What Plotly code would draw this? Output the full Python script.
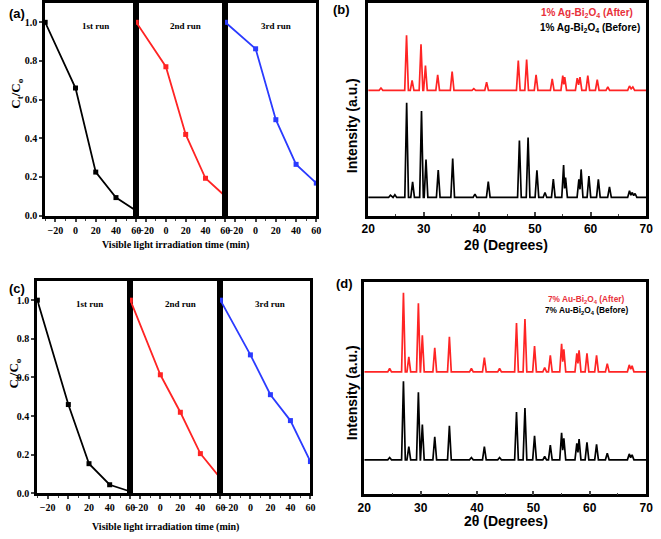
import plotly.graph_objects as go

W, H = 661, 539

# ---------------- data ----------------
time_min = [-30, 0, 20, 40, 60]
a_run1 = [1.0, 0.66, 0.225, 0.093, 0.025]
a_run2 = [1.0, 0.77, 0.42, 0.193, 0.10]
a_run3 = [1.0, 0.863, 0.496, 0.265, 0.168]
c_run1 = [1.0, 0.46, 0.154, 0.045, 0.01]
c_run2 = [1.0, 0.614, 0.42, 0.206, 0.079]
c_run3 = [1.0, 0.717, 0.511, 0.377, 0.165]
y_ticks = [0.0, 0.2, 0.4, 0.6, 0.8, 1.0]
t_ticks = [-20, 0, 20, 40, 60]
run_labels = ["1st run", "2nd run", "3rd run"]

two_theta_ticks = [20, 30, 40, 50, 60, 70]

# XRD peak lists (2theta, intensity a.u.)
b_before_base = 55
b_before_pos = [24.0, 24.8, 26.92, 27.99, 29.59, 30.4, 32.6, 35.2, 39.2, 41.6, 47.2, 48.76, 50.35, 51.8,
                53.3, 55.15, 55.5, 57.9, 58.3, 59.7, 61.4, 63.4, 67.0, 67.5, 68.0]
b_before_int = [62, 63, 342, 102, 317, 170, 138, 173, 65, 103, 228, 237, 137, 70,
                111, 153, 115, 110, 140, 120, 110, 87, 75, 70, 67]
b_after_base = 380
b_after_pos = [22.3, 26.9, 27.9, 29.5, 30.3, 32.5, 35.1, 39.0, 41.3, 47.0, 48.5, 50.2, 53.1,
               55.0, 55.35, 57.6, 58.1, 59.5, 61.2, 63.1, 67.0, 67.6]
b_after_int = [387, 547, 410, 520, 455, 427, 437, 385, 405, 470, 473, 427, 415,
               425, 420, 417, 420, 425, 412, 390, 393, 390]

d_before_base = 105
d_before_pos = [24.5, 26.95, 27.9, 29.6, 30.3, 32.5, 35.1, 39.0, 41.3, 44.0, 47.0, 48.5, 50.2, 52.0,
                53.0, 55.0, 55.4, 57.7, 58.1, 59.5, 61.2, 63.1, 67.0, 67.5]
d_before_int = [112, 343, 145, 310, 212, 175, 208, 112, 145, 112, 250, 262, 178, 115,
                150, 187, 170, 155, 168, 158, 152, 125, 123, 120]
d_after_base = 372
d_after_pos = [24.5, 26.95, 27.9, 29.6, 30.3, 32.5, 35.1, 39.0, 41.3, 44.0, 47.0, 48.5, 50.2, 52.0,
               53.0, 55.0, 55.4, 57.7, 58.1, 59.5, 61.2, 63.1, 67.0, 67.5]
d_after_int = [382, 612, 417, 580, 483, 445, 478, 382, 415, 382, 520, 532, 450, 385,
               422, 457, 440, 428, 437, 428, 422, 397, 393, 390]


def pattern(base, pos, inten, w=0.33):
    xs, ys = [20.0], [base]
    n = len(pos)
    for i in range(n):
        p, h = pos[i], inten[i]
        left = p - w
        if i > 0 and left < pos[i - 1] + w:
            mid = (pos[i - 1] + p) / 2
            xs.append(mid)
            ys.append(base + 0.45 * min(h - base, inten[i - 1] - base))
        else:
            xs.append(left)
            ys.append(base)
        xs.append(p)
        ys.append(h)
        if i == n - 1 or p + w <= pos[i + 1] - w:
            xs.append(p + w)
            ys.append(base)
    xs.append(70.0)
    ys.append(base)
    return xs, ys


def fx(px):
    return px / W


def fy(py):
    return 1 - py / H


RED = "#ff2424"
BLUE = "#2b3bff"
SERIF = "Liberation Serif"
SANS = "Liberation Sans"

fig = go.Figure()
layout = {}

# ---------- kinetic panels (a) and (c) ----------
kin_panels = [
    ([39, 132, 223, 316], 3, 218, [a_run1, a_run2, a_run3], 1),
    ([31, 126, 218, 310], 284, 499, [c_run1, c_run2, c_run3], 5),
]
colors = ["black", RED, BLUE]
for edges, ytop, ybot, runs, k0 in kin_panels:
    for j in range(3):
        k = k0 + j
        xa = "xaxis" if k == 1 else f"xaxis{k}"
        ya = "yaxis" if k == 1 else f"yaxis{k}"
        xr = "x" if k == 1 else f"x{k}"
        yr = "y" if k == 1 else f"y{k}"
        layout[xa] = dict(domain=[fx(edges[j]), fx(edges[j + 1])], anchor=yr,
                          range=[-30, 60], tickvals=t_ticks, ticks="outside", ticklen=3,
                          tickwidth=1.5, showline=True, mirror=True, linewidth=3,
                          linecolor="black", showgrid=False, zeroline=False,
                          minor=dict(ticks="outside", ticklen=2, tickwidth=1.2, tickvals=[-30, -10, 10, 30, 50]),
                          tickfont=dict(family=SERIF, size=10, color="black", weight="bold"))
        layout[ya] = dict(domain=[fy(ybot), fy(ytop)], anchor=xr, range=[0, 1.1],
                          tickvals=y_ticks, tickformat=".1f",
                          ticks="outside" if j == 0 else "", ticklen=3, tickwidth=1.5,
                          showticklabels=(j == 0), showline=True, mirror=True, linewidth=3,
                          linecolor="black", showgrid=False, zeroline=False,
                          tickfont=dict(family=SERIF, size=10, color="black", weight="bold"))
        fig.add_trace(go.Scatter(x=time_min, y=runs[j], xaxis=xr, yaxis=yr,
                                 mode="lines+markers", cliponaxis=False,
                                 line=dict(color=colors[j], width=1.8),
                                 marker=dict(symbol="square", size=5, color=colors[j]),
                                 showlegend=False))
        fig.add_annotation(x=20, y=0.98, xref=xr, yref=yr, text=run_labels[j],
                           showarrow=False,
                           font=dict(family=SERIF, size=9, color="black", weight="bold"))

# ---------- XRD panels (b) and (d) ----------
xrd_panels = [
    (4, [369, 653], 3, 218,
     [(b_after_base, b_after_pos, b_after_int, RED), (b_before_base, b_before_pos, b_before_int, "black")]),
    (8, [365, 653], 285, 500,
     [(d_after_base, d_after_pos, d_after_int, RED), (d_before_base, d_before_pos, d_before_int, "black")]),
]
for k, xe, ytop, ybot, series in xrd_panels:
    layout[f"xaxis{k}"] = dict(domain=[fx(xe[0]), fx(xe[1])], anchor=f"y{k}", range=[20, 70],
                               tickvals=two_theta_ticks, ticks="inside", ticklen=4, tickwidth=1.5,
                               minor=dict(ticks="inside", ticklen=2, tickwidth=1.2,
                                          tickvals=[25, 35, 45, 55, 65]),
                               showline=True, mirror=True, linewidth=2.5, linecolor="black",
                               showgrid=False, zeroline=False,
                               tickfont=dict(family=SANS, size=12, color="black", weight="bold"))
    layout[f"yaxis{k}"] = dict(domain=[fy(ybot), fy(ytop)], anchor=f"x{k}", range=[0, 645],
                               showticklabels=False, ticks="", showline=True, mirror=True,
                               linewidth=2.5, linecolor="black", showgrid=False, zeroline=False)
    for base, pos, inten, col in series:
        xs, ys = pattern(base, pos, inten)
        fig.add_trace(go.Scatter(x=xs, y=ys, xaxis=f"x{k}", yaxis=f"y{k}", mode="lines",
                                 line=dict(color=col, width=1.7), showlegend=False))


# ---------- text annotations ----------
def pann(text, x, y, size, family, angle=0, color="black", xanchor="center"):
    fig.add_annotation(x=fx(x), y=fy(y), xref="paper", yref="paper", text=text,
                       showarrow=False, textangle=angle, xanchor=xanchor, yanchor="middle",
                       font=dict(family=family, size=size, color=color, weight="bold"))


pann("(a)", 10, 14, 13, SANS)
pann("(b)", 342, 10, 13, SANS)
pann("(c)", 10, 292, 13, SANS)
pann("(d)", 345, 287, 13, SANS)

pann("Visible light irradiation time (min)", 172, 248, 10, SERIF)
pann("Visible light irradiation time (min)", 162, 533, 10, SERIF)
pann("C<sub>t</sub>/C<sub>o</sub>", 10, 95, 13, SERIF, angle=-90)
pann("C<sub>t</sub>/C<sub>o</sub>", 8, 378, 13, SERIF, angle=-90)

pann("2θ (Degrees)", 510, 248, 14, SANS)
pann("2θ (Degrees)", 510, 527, 14, SANS)
pann("Intensity (a.u.)", 352, 127, 14, SANS, angle=-90)
pann("Intensity (a.u.)", 352, 397, 14, SANS, angle=-90)

pann("1% Ag-Bi<sub>2</sub>O<sub>4</sub> (After)", 642, 13, 10, SANS, color="#e8303a", xanchor="right")
pann("1% Ag-Bi<sub>2</sub>O<sub>4</sub> (Before)", 649, 28, 10, SANS, xanchor="right")
pann("7% Au-Bi<sub>2</sub>O<sub>4</sub> (After)", 632, 303, 8.3, SANS, color="#e8303a", xanchor="right")
pann("7% Au-Bi<sub>2</sub>O<sub>4</sub> (Before)", 636, 314, 8.3, SANS, xanchor="right")

fig.update_layout(**layout)
fig.update_layout(width=W, height=H, margin=dict(l=0, r=0, t=0, b=0),
                  paper_bgcolor="white", plot_bgcolor="white", showlegend=False)

fig.write_html("out.html", config={"displayModeBar": False},
               post_script="document.body.style.margin='0px';")
